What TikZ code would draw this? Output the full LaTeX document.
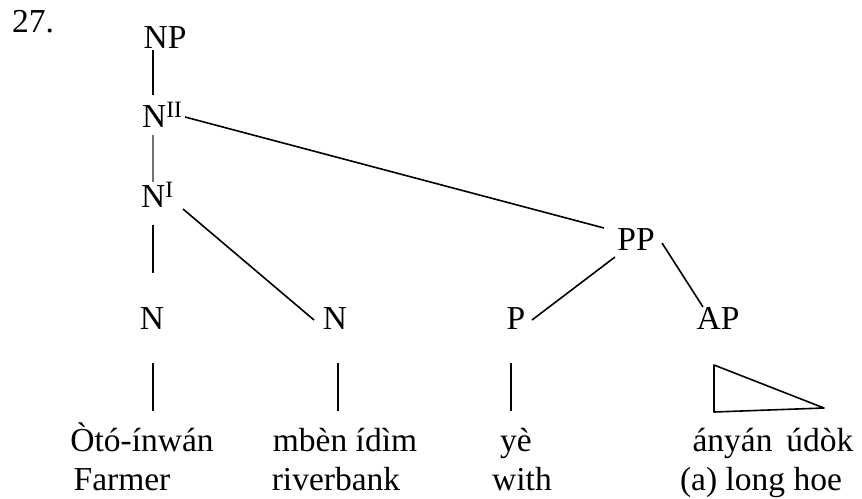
\documentclass[tikz,border=0pt]{standalone}
\usepackage{fontspec}
\setmainfont{Liberation Serif}
\begin{document}
\begin{tikzpicture}[x=1pt,y=-1pt,
  lab/.style={inner sep=0pt,font=\fontsize{33.5}{36}\selectfont},
  edge/.style={line width=1.6pt,black},
  stem/.style={line width=1.2pt,black}]
\useasboundingbox (0,0) rectangle (862,498);
\node[lab,anchor=base west] (num) at (12,32) {27.};
\node[lab,anchor=base] (np) at (165,48) {NP};
\node[lab,anchor=base west] (n2) at (142,127) {N\textsuperscript{II}};
\node[lab,anchor=base west] (n1) at (141,207) {N\textsuperscript{I}};
\node[lab,anchor=base] (na) at (152,329) {N};
\node[lab,anchor=base] (nb) at (335,329) {N};
\node[lab,anchor=base] (p) at (516,329) {P};
\node[lab,anchor=base] (ap) at (718,329) {AP};
\node[lab,anchor=base] (pp) at (636,250) {PP};
\coordinate (t1) at (714,365);
\coordinate (t2) at (714,412);
\coordinate (t3) at (824,408);
\node[lab,anchor=base] (w1) at (142,451) {Òtó-ínwán};
\node[lab,anchor=base] (w2) at (345,451) {mbèn ídìm};
\node[lab,anchor=base] (w3) at (516,451) {yè};
\node[lab,anchor=base] (w4) at (773,451) {ányán\, údòk};
\node[lab,anchor=base] (g1) at (122,490) {Farmer};
\node[lab,anchor=base] (g2) at (336,490) {riverbank};
\node[lab,anchor=base] (g3) at (522,490) {with};
\node[lab,anchor=base] (g4) at (761,490) {(a) long hoe};
\draw[stem] (153,50) -- (153,95);
\draw[stem,black!55] (153,135) -- (153,182);
\draw[stem] (153,225) -- (153,273);
\draw[edge] (183,209) -- (314,320);
\draw[edge] (185,117) -- (604,228);
\draw[edge] (615,257) -- (532,320);
\draw[edge] (662,243) -- (703,307);
\draw[stem] (153,363) -- (153,411);
\draw[stem] (338,363) -- (338,411);
\draw[stem] (511,363) -- (511,411);
\draw[edge,line join=round] (t1) -- (t2) -- (t3) -- cycle;
\end{tikzpicture}
\end{document}
